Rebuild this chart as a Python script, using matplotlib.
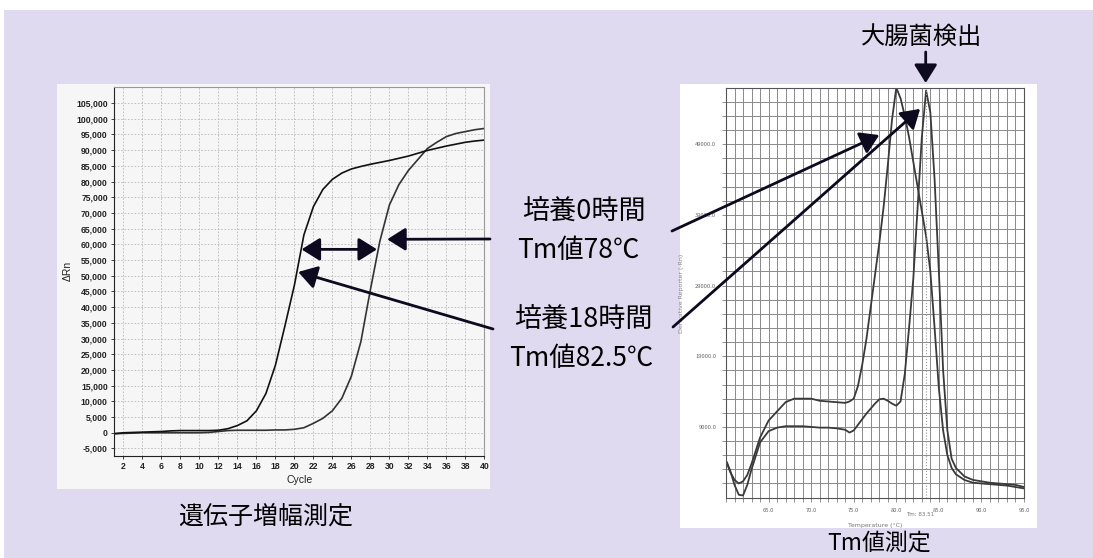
import numpy as np
import matplotlib
matplotlib.use("Agg")
import matplotlib.pyplot as plt
import matplotlib.patches as patches
from matplotlib.ticker import FuncFormatter, MultipleLocator

plt.rcParams['font.family'] = ['Noto Sans CJK JP', 'DejaVu Sans']

W, H = 1093, 558

# ---- amplification curves (cycle vs dRn) ----
cycles = list(range(1, 41))
drn_18h = [-300, 0, 100, 200, 300, 400, 600, 700, 700, 700, 700, 800, 1300, 2300,
           3800, 7000, 12500, 21500, 34000, 47000, 63000, 72000, 77500, 80700,
           82700, 84000, 84800, 85500, 86100, 86700, 87400, 88100, 89000, 89900,
           90600, 91300, 91900, 92500, 92900, 93200]
drn_0h = [-300, -200, -100, 0, 0, 0, 0, 0, 0, 0, 100, 400, 700, 800, 800, 800, 800,
          900, 900, 1100, 1600, 3000, 4600, 7000, 11000, 18000, 29000, 45500,
          61000, 72500, 79000, 83500, 87000, 90500, 92500, 94300, 95300, 95900,
          96500, 96900]

# ---- melt curves (temperature vs derivative) ----
temps = [60.1, 60.5, 61, 61.5, 62, 62.5, 63, 64, 65, 66, 67, 68, 69, 70, 71, 72, 73,
         74, 74.5, 75, 75.5, 76, 76.5, 77, 77.5, 78, 78.5, 79, 79.5, 80, 80.5, 81,
         81.5, 82, 82.5, 83, 83.5, 84, 84.5, 85, 85.5, 86, 86.5, 87, 88, 89, 90, 91,
         92, 93, 94, 95]
deriv_0h = [3900, 2600, 1500, 1000, 1300, 2200, 3800, 7500, 9900, 11200, 12500, 13000,
            13000, 13000, 12700, 12600, 12500, 12400, 12600, 13000, 14800, 17800,
            21500, 26000, 30500, 35000, 40000, 46000, 52500, 57000, 55500, 53000,
            50000, 46500, 43000, 39500, 36000, 31000, 23000, 14500, 8500, 5000,
            3200, 2300, 1500, 1100, 1000, 900, 800, 700, 500, 300]
deriv_18h = [4000, 2800, 800, -600, -700, 800, 3000, 6800, 8400, 8900, 9100, 9100,
             9100, 9000, 8900, 8900, 8800, 8600, 8200, 8500, 9300, 10100, 10900,
             11600, 12300, 12900, 13000, 12700, 12300, 12000, 12600, 16500, 23000,
             30000, 40000, 50000, 56600, 53500, 44000, 31000, 17000, 8500, 4500,
             3200, 2000, 1500, 1300, 1100, 1000, 900, 800, 500]
tm_value = 83.51

left_yticks = list(range(-5000, 105001, 5000))
left_xticks = list(range(2, 41, 2))
right_xticks = [65, 70, 75, 80, 85, 90, 95]
right_yticks = [9000, 19000, 29000, 39000, 49000]


def box(x, y):
    # image pixel (top-left origin) -> figure fraction
    return x / W, 1 - y / H


fig = plt.figure(figsize=(W / 100, H / 100), dpi=100, facecolor='white')

# lavender backdrop and white/grey chart panels
bg = patches.Rectangle(box(4, H), (W - 4) / W, (H - 10) / H, transform=fig.transFigure,
                       facecolor='#e0daf0', edgecolor='none', zorder=-10)
fig.patches.append(bg)
pl = patches.Rectangle(box(57, 489), (490 - 57) / W, (489 - 84) / H, transform=fig.transFigure,
                       facecolor='#f6f6f6', edgecolor='none', zorder=-9)
fig.patches.append(pl)
pr = patches.Rectangle(box(680, 528), (1037 - 680) / W, (528 - 84) / H, transform=fig.transFigure,
                       facecolor='white', edgecolor='none', zorder=-9)
fig.patches.append(pr)

# ---------------- left chart ----------------
axl = fig.add_axes([114 / W, 1 - 456 / H, 370.3 / W, 369.3 / H])
axl.set_facecolor('#f6f6f6')
axl.plot(cycles, drn_0h, color='#333333', lw=1.2)
axl.plot(cycles, drn_18h, color='#111111', lw=1.2)
axl.set_xlim(1, 40)
axl.set_ylim(-7400, 110200)
axl.set_xticks(left_xticks)
axl.set_yticks(left_yticks)
axl.yaxis.set_major_formatter(FuncFormatter(lambda v, p: '{:,.0f}'.format(v)))
axl.grid(True, color='#b8b8b8', lw=0.6, ls=(0, (2, 2)))
for s in ['top', 'right']:
    axl.spines[s].set_color('#999999')
for s in ['left', 'bottom']:
    axl.spines[s].set_color('#222222')
axl.tick_params(labelsize=6.2, length=2.5, width=0.6, colors='#222222', pad=2)
for t in axl.get_xticklabels() + axl.get_yticklabels():
    t.set_fontfamily('Liberation Sans')
    t.set_fontweight('bold')
axl.set_xlabel('Cycle', fontsize=7.5, family='Liberation Sans', labelpad=3, color='#222222')
axl.set_ylabel('ΔRn', fontsize=7.5, family='Liberation Sans', labelpad=2, color='#222222')

# ---------------- right chart ----------------
axr = fig.add_axes([726 / W, 1 - 498.3 / H, 298 / W, 410.6 / H])
axr.set_facecolor('white')
axr.plot(temps, deriv_0h, color='#3a3a3a', lw=1.3)
axr.plot(temps, deriv_18h, color='#3a3a3a', lw=1.3)
axr.axvline(tm_value, color='#999999', lw=0.8, ls=':')
axr.set_xlim(60, 95)
axr.set_ylim(-1100, 57000)
axr.set_xticks(right_xticks)
axr.set_yticks(right_yticks)
axr.xaxis.set_minor_locator(MultipleLocator(1))
axr.set_yticks(list(range(1000, 57000, 2000)), minor=True)
axr.xaxis.set_major_formatter(FuncFormatter(lambda v, p: '{:.1f}'.format(v)))
axr.yaxis.set_major_formatter(FuncFormatter(lambda v, p: '{:.1f}'.format(v)))
axr.grid(True, which='both', color='#8a8a8a', lw=0.7)
for s in axr.spines.values():
    s.set_color('#555555')
    s.set_linewidth(0.8)
axr.tick_params(which='both', labelsize=4.2, length=3, width=0.5, colors='#666666', pad=4)
axr.set_xlabel('Temperature (°C)', fontsize=4.5, color='#777777', labelpad=7, family='DejaVu Sans')
axr.set_ylabel('Derivative Reporter (-Rn)', fontsize=4.5, color='#888888', labelpad=8,
               family='DejaVu Sans')
fig.text(920 / W, 1 - 515 / H, 'Tm: 83.51', fontsize=4, color='#777777', ha='center', va='center',
         family='DejaVu Sans')

# ---------------- annotations ----------------
ink = '#0d0a20'
aprops = dict(arrowstyle='-|>,head_length=0.8,head_width=0.5', lw=2.0, color=ink,
              mutation_scale=14, shrinkA=0, shrinkB=0)

# double arrow between curves
axl.annotate('', xy=(28.7, 58400), xytext=(20.75, 58400),
             arrowprops=dict(aprops, arrowstyle='<|-|>,head_length=0.8,head_width=0.5'))
# 0 h arrow
axl.annotate('', xy=(29.77, 61600), xytext=(490, H - 239), textcoords='figure pixels',
             arrowprops=aprops)
# 18 h arrow
axl.annotate('', xy=(20.4, 51200), xytext=(493, H - 329), textcoords='figure pixels',
             arrowprops=aprops)
# melt curve arrows
axr.annotate('', xy=(78.0, 50300), xytext=(672, H - 231), textcoords='figure pixels',
             arrowprops=aprops)
axr.annotate('', xy=(82.8, 54000), xytext=(673, H - 327), textcoords='figure pixels',
             arrowprops=aprops)
# detection arrow from the top
fig.add_artist(patches.FancyArrowPatch((925.7, H - 52), (925.7, H - 83), transform=None,
                                       **aprops))

txt = dict(color='black', ha='center', va='center')
fig.text(*box(584, 211), '培養0時間', fontsize=19.5, **txt)
fig.text(*box(578, 251), 'Tm値78℃', fontsize=19, **txt)
fig.text(*box(583, 319), '培養18時間', fontsize=19.5, **txt)
fig.text(*box(581, 359), 'Tm値82.5℃', fontsize=19, **txt)
fig.text(*box(922, 37), '大腸菌検出', fontsize=17.5, **txt)
fig.text(*box(266, 517), '遺伝子増幅測定', fontsize=18, **txt)
fig.text(*box(879, 543), 'Tm値測定', fontsize=16.5, **txt)

fig.savefig('out.png', dpi=100, facecolor=fig.get_facecolor())
